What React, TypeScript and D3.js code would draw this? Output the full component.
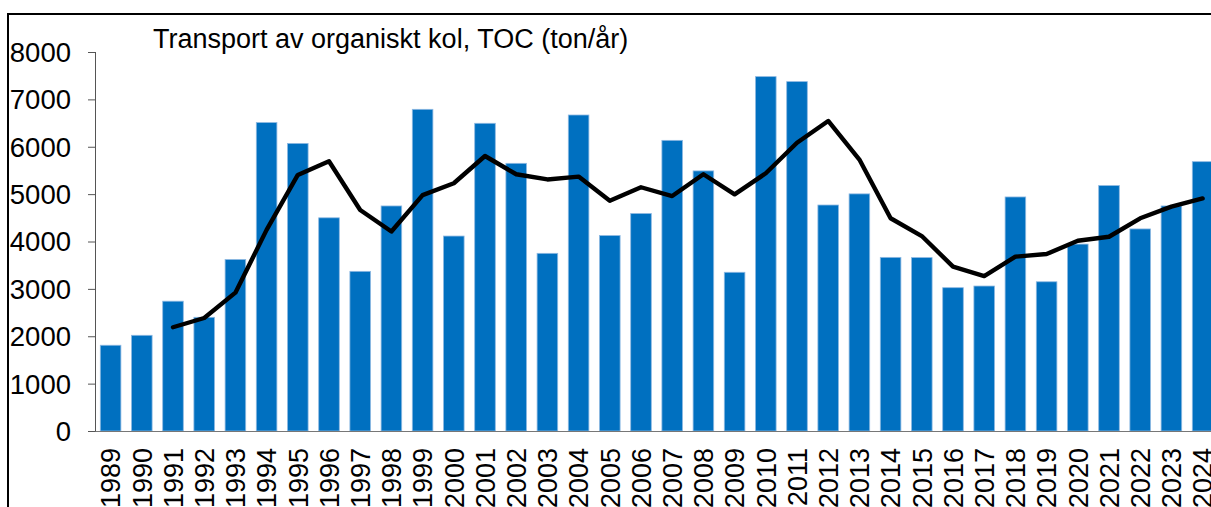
import React from "react";
import * as d3 from "d3";

const years = [
  "1989","1990","1991","1992","1993","1994","1995","1996","1997","1998",
  "1999","2000","2001","2002","2003","2004","2005","2006","2007","2008",
  "2009","2010","2011","2012","2013","2014","2015","2016","2017","2018",
  "2019","2020","2021","2022","2023","2024",
];

const toc = [
  1810, 2020, 2740, 2400, 3620, 6510, 6070, 4500, 3370, 4750,
  6790, 4115, 6495, 5650, 3750, 6670, 4125, 4590, 6135, 5490,
  3350, 7480, 7375, 4770, 5005, 3665, 3660, 3025, 3060, 4940,
  3150, 3945, 5180, 4265, 4750, 5685,
];

// moving average line (starts 1991)
const avgYears = years.slice(2);
const avg = [
  2190, 2385, 2920, 4245, 5405, 5695, 4665, 4210, 4980, 5230,
  5805, 5420, 5310, 5370, 4860, 5145, 4960, 5420, 4995, 5440,
  6085, 6545, 5730, 4490, 4115, 3470, 3270, 3680, 3735, 4015,
  4100, 4490, 4735, 4910,
];

const yTicks = [0, 1000, 2000, 3000, 4000, 5000, 6000, 7000, 8000];
const title = "Transport av organiskt kol, TOC (ton/år)";

const W = 1211;
const H = 507;
const left = 95;
const right = 95 + 36 * 31.2;
const y0 = 431;
const yTop = 52;
const font = "Arial, 'Liberation Sans', sans-serif";

export default function App() {
  const x = d3
    .scaleBand<string>()
    .domain(years)
    .range([left, right])
    .paddingInner(0.34)
    .paddingOuter(0.17);
  const y = d3.scaleLinear().domain([0, 8000]).range([y0, yTop]);
  const line = d3
    .line<number>()
    .x((_, i) => (x(avgYears[i]) as number) + x.bandwidth() / 2)
    .y((d) => y(d));

  return (
    <svg
      width={W}
      height={H}
      style={{ position: "absolute", left: 0, top: 0, background: "#fff" }}
    >
      <rect x={0} y={0} width={W} height={H} fill="#fff" />
      <rect x={8} y={14} width={W + 20} height={H + 20} fill="none" stroke="#000" strokeWidth={2} />
      <text x={153} y={48} fontFamily={font} fontSize={27} fill="#000">
        {title}
      </text>
      {toc.map((v, i) => (
        <rect
          key={years[i]}
          x={x(years[i])}
          y={y(v)}
          width={x.bandwidth()}
          height={y0 - y(v)}
          fill="#0070C0"
          stroke="#8DB8E2"
          strokeWidth={0.8}
        />
      ))}
      <line x1={95.5} x2={95.5} y1={yTop} y2={y0} stroke="#555" strokeWidth={1} />
      <line x1={88} x2={right} y1={y0 + 0.5} y2={y0 + 0.5} stroke="#777" strokeWidth={1.2} />
      {yTicks.map((t) => (
        <g key={t}>
          <line x1={88} x2={95.5} y1={y(t) + 0.5} y2={y(t) + 0.5} stroke="#555" strokeWidth={1} />
          <text
            x={71}
            y={y(t)}
            dy="0.36em"
            textAnchor="end"
            fontFamily={font}
            fontSize={27.5}
            fill="#000"
          >
            {t}
          </text>
        </g>
      ))}
      {years.map((yr) => {
        const cx = (x(yr) as number) + x.bandwidth() / 2;
        return (
          <text
            key={yr}
            transform={`translate(${cx + 9.8},${y0 + 17}) rotate(-90)`}
            textAnchor="end"
            fontFamily={font}
            fontSize={27}
            fill="#000"
          >
            {yr}
          </text>
        );
      })}
      <path
        d={line(avg) || ""}
        fill="none"
        stroke="#000"
        strokeWidth={4.4}
        strokeLinejoin="round"
        strokeLinecap="round"
      />
    </svg>
  );
}
